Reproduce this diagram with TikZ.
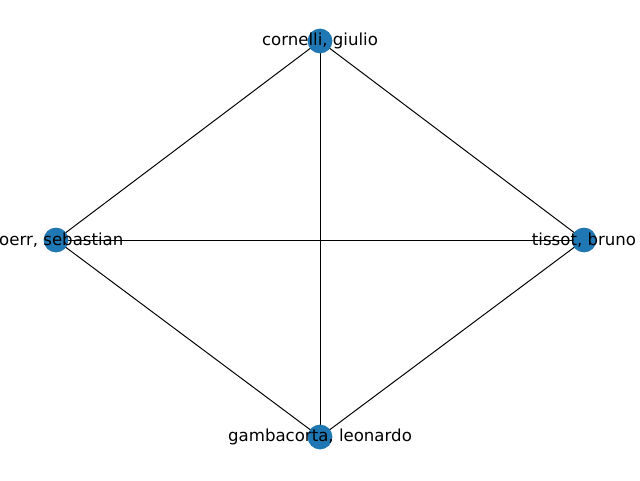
\documentclass[tikz,border=0pt]{standalone}
\usepackage{fontspec}
\setmainfont{DejaVu Sans}
\usetikzlibrary{backgrounds}
\definecolor{nodeblue}{HTML}{1F77B4}
\tikzset{
  vertex/.style={circle, fill=nodeblue, inner sep=0pt, minimum size=0.62cm},
  name label/.style={font=\fontsize{11.8}{14}\selectfont, inner sep=0pt},
  edge/.style={line width=0.7pt, black}
}

\begin{document}
\begin{tikzpicture}
  \useasboundingbox (0,0) rectangle (16,12);
  \clip (0,0) rectangle (16,12);

  % vertices
  \node[vertex] (cornelli) at (8.0, 10.975) {};
  \node[vertex] (doerr) at (1.4, 6.0) {};
  \node[vertex] (tissot) at (14.6, 6.0) {};
  \node[vertex] (gambacorta) at (8.0, 1.075) {};

  % edges
  \begin{scope}[on background layer]
    \draw[edge] (cornelli.center) -- (doerr.center);
    \draw[edge] (cornelli.center) -- (tissot.center);
    \draw[edge] (cornelli.center) -- (gambacorta.center);
    \draw[edge] (doerr.center) -- (tissot.center);
    \draw[edge] (doerr.center) -- (gambacorta.center);
    \draw[edge] (tissot.center) -- (gambacorta.center);
  \end{scope}

  % labels
  \node[name label] at (cornelli) {cornelli, giulio};
  \node[name label] at (doerr) {doerr, sebastian};
  \node[name label] at (tissot) {tissot, bruno};
  \node[name label] at (gambacorta) {gambacorta, leonardo};
\end{tikzpicture}
\end{document}
